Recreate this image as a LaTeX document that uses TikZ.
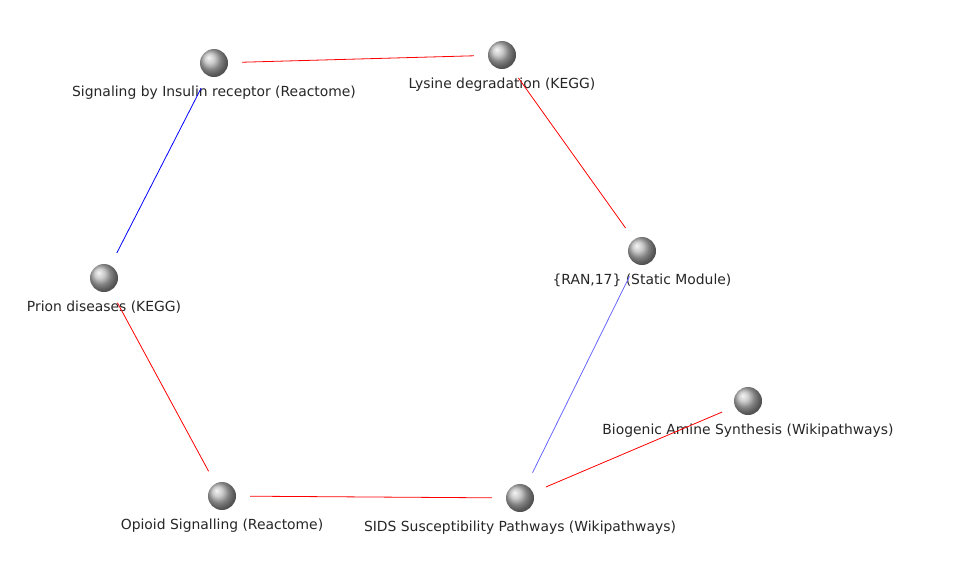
\documentclass[tikz,border=0pt]{standalone}
\usepackage{fontspec}
\setmainfont{DejaVu Sans}
\begin{document}
\begin{tikzpicture}[x=1pt,y=-1pt,
every node/.style={font=\fontsize{13.9}{16}\selectfont},
path/.style={circle,shading=ball,ball color=gray!55,minimum size=28pt,inner sep=0pt},
lbl/.style={text=black!85,label distance=5.5pt},
hit/.style={red,line width=.8pt,shorten <=14pt,shorten >=14pt},
miss/.style={blue,line width=.8pt,shorten <=14pt,shorten >=14pt}]
\useasboundingbox (0,0) rectangle (957,587);
\node[path,label={[lbl]below:Signaling by Insulin receptor (Reactome)}] (ins) at (214,63) {};
\node[path,label={[lbl]below:Lysine degradation (KEGG)}] (lys) at (502,55) {};
\node[path,label={[lbl]below:\{RAN,17\} (Static Module)}] (ran) at (642,251) {};
\node[path,label={[lbl]below:Biogenic Amine Synthesis (Wikipathways)}] (bio) at (748,401) {};
\node[path,label={[lbl]below:SIDS Susceptibility Pathways (Wikipathways)}] (sids) at (520,498) {};
\node[path,label={[lbl]below:Opioid Signalling (Reactome)}] (opi) at (222,496) {};
\node[path,label={[lbl]below:Prion diseases (KEGG)}] (pri) at (104,278) {};
\draw[hit] (ins)--(lys);
\draw[hit] (lys)--(ran);
\draw[miss,blue!60] (ran)--(sids);
\draw[hit] (sids)--(bio);
\draw[hit] (sids)--(opi);
\draw[hit] (opi)--(pri);
\draw[miss] (pri)--(ins);
\end{tikzpicture}
\end{document}
